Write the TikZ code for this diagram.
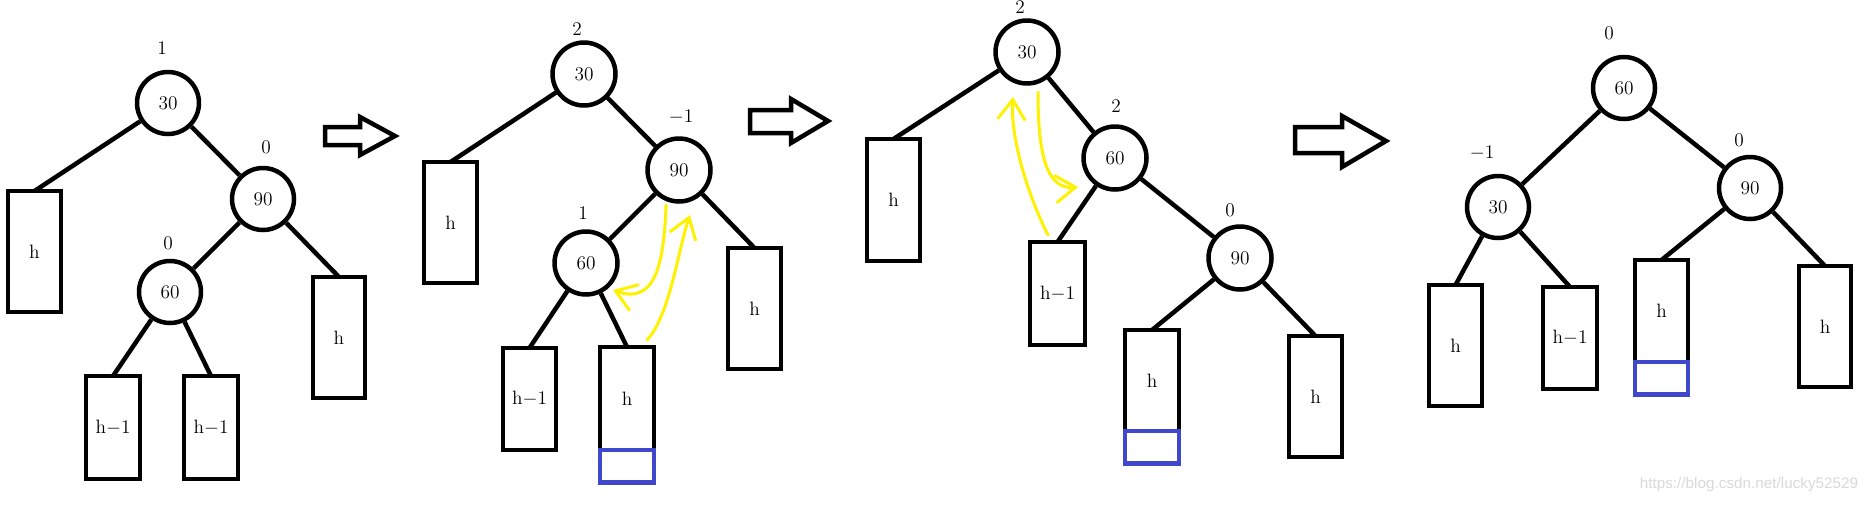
\documentclass[tikz,border=0pt]{standalone}
\usepackage{fontspec}
\newfontfamily\wmfont{Liberation Sans}
\usetikzlibrary{arrows.meta,positioning}
\definecolor{markyellow}{RGB}{255,242,0}
\definecolor{newblue}{RGB}{63,72,204}

\begin{document}
\begin{tikzpicture}[
  x=0.02cm, y=-0.02cm,
  font=\fontsize{11}{13}\selectfont,
  knot/.style={circle, draw, line width=0.09cm, minimum size=1.24cm, inner sep=0pt},
  sub/.style={draw, line width=0.09cm, inner sep=0pt, outer sep=0pt},
  addbox/.style={draw=newblue, line width=0.09cm, inner sep=0pt, outer sep=0pt, minimum height=0.65cm},
  bal/.style={inner sep=0pt},
  link/.style={line width=0.09cm},
  rotmark/.style={draw=markyellow, line width=0.06cm, line cap=round,
    -{Straight Barb[length=0.4cm, width=0.55cm, line width=0.06cm]}},
  bigarrow/.style={draw, line width=0.09cm, fill=white}
]
\useasboundingbox (0,0) rectangle (1871,504);

% before insertion
\node[knot] (a30) at (168,103) {30};
\node[knot] (a90) at (263,199) {90};
\node[knot] (a60) at (170,292) {60};
\node[bal] (a30b) at (162,48) {1};
\node[bal] (a90b) at (266,147) {0};
\node[bal] (a60b) at (168,243) {0};
\node[sub, minimum width=1.06cm, minimum height=2.42cm] (a30l) at (34.5,251.5) {h};
\node[sub, minimum width=1.04cm, minimum height=2.42cm] (a90r) at (339,337.5) {h};
\node[sub, minimum width=1.08cm, minimum height=2.06cm] (a60l) at (113,427.5) {h$-$1};
\node[sub, minimum width=1.08cm, minimum height=2.06cm] (a60r) at (211,427.5) {h$-$1};
\draw[link] (a30) -- (a30l.north);
\draw[link] (a30) -- (a90);
\draw[link] (a90) -- (a60);
\draw[link] (a90) -- (a90r.north);
\draw[link] (a60) -- (a60l.north);
\draw[link] (a60) -- (a60r.north);

\draw[bigarrow] (325,127) -- (360,127) -- (360,117) -- (395,136) -- (360,155) -- (360,145) -- (325,145) -- cycle;

% after insertion
\node[knot, minimum size=1.26cm] (b30) at (584,74) {30};
\node[knot, minimum size=1.26cm] (b90) at (679,170) {90};
\node[knot, minimum size=1.26cm] (b60) at (586,263) {60};
\node[bal] (b30b) at (577,29) {2};
\node[bal] (b90b) at (681,117) {$-$1};
\node[bal] (b60b) at (583,213) {1};
\node[sub, minimum width=1.06cm, minimum height=2.42cm] (b30l) at (450.5,222.5) {h};
\node[sub, minimum width=1.06cm, minimum height=2.42cm] (b90r) at (754.5,308.5) {h};
\node[sub, minimum width=1.06cm, minimum height=2.04cm] (b60l) at (529.5,399) {h$-$1};
\node[sub, minimum width=1.08cm, minimum height=2.06cm] (b60r) at (627,398.5) {h};
\node[addbox, minimum width=1.08cm, below=0pt of b60r] (b60n) {};
\draw[link] (b30) -- (b30l.north);
\draw[link] (b30) -- (b90);
\draw[link] (b90) -- (b60);
\draw[link] (b90) -- (b90r.north);
\draw[link] (b60) -- (b60l.north);
\draw[link] (b60) -- (b60r.north);
\coordinate (b1s) at (666,205);
\coordinate (b1e) at (613,290);
\coordinate (b2s) at (647,340);
\coordinate (b2e) at (690,215);
\draw[rotmark] (b1s) .. controls (664,265) and (655,305) .. (b1e);
\draw[rotmark] (b2s) .. controls (670,315) and (678,250) .. (b2e);

\draw[bigarrow] (750,110) -- (791,110) -- (791,99) -- (828,121) -- (791,143) -- (791,133) -- (750,133) -- cycle;

% right rotation of 90
\node[knot, minimum size=1.26cm] (c30) at (1027,52) {30};
\node[knot, minimum size=1.26cm] (c60) at (1115,158) {60};
\node[knot, minimum size=1.26cm] (c90) at (1240,258) {90};
\node[bal] (c30b) at (1020,7) {2};
\node[bal] (c60b) at (1116,106) {2};
\node[bal] (c90b) at (1230,210) {0};
\node[sub, minimum width=1.06cm, minimum height=2.44cm] (c30l) at (893.5,200) {h};
\node[sub, minimum width=1.10cm, minimum height=2.06cm] (c60l) at (1057.5,293.5) {h$-$1};
\node[sub, minimum width=1.08cm, minimum height=2.02cm] (c90l) at (1152,380.5) {h};
\node[addbox, minimum width=1.08cm, below=0pt of c90l] (c90n) {};
\node[sub, minimum width=1.06cm, minimum height=2.42cm] (c90r) at (1315.5,396.5) {h};
\draw[link] (c30) -- (c30l.north);
\draw[link] (c30) -- (c60);
\draw[link] (c60) -- (c60l.north);
\draw[link] (c60) -- (c90);
\draw[link] (c90) -- (c90l.north);
\draw[link] (c90) -- (c90r.north);
\coordinate (c1s) at (1048,235);
\coordinate (c1e) at (1013,97);
\coordinate (c2s) at (1038,92);
\coordinate (c2e) at (1078,187);
\draw[rotmark] (c1s) .. controls (1030,200) and (1010,140) .. (c1e);
\draw[rotmark] (c2s) .. controls (1038,150) and (1045,190) .. (c2e);

\draw[bigarrow] (1295,127) -- (1342,127) -- (1342,116) -- (1386,141) -- (1342,167) -- (1342,153) -- (1295,153) -- cycle;

% left rotation of 30
\node[knot] (d60) at (1624,88) {60};
\node[knot] (d30) at (1498,207) {30};
\node[knot] (d90) at (1750,188) {90};
\node[bal] (d60b) at (1609,33) {0};
\node[bal] (d30b) at (1482,153) {$-$1};
\node[bal] (d90b) at (1739,140) {0};
\node[sub, minimum width=1.06cm, minimum height=2.42cm] (d30l) at (1455.5,345.5) {h};
\node[sub, minimum width=1.08cm, minimum height=2.04cm] (d30r) at (1570,338) {h$-$1};
\node[sub, minimum width=1.06cm, minimum height=2.04cm] (d90l) at (1661.5,311) {h};
\node[addbox, minimum width=1.06cm, below=0pt of d90l] (d90n) {};
\node[sub, minimum width=1.04cm, minimum height=2.42cm] (d90r) at (1825,326.5) {h};
\draw[link] (d60) -- (d30);
\draw[link] (d60) -- (d90);
\draw[link] (d30) -- (d30l.north);
\draw[link] (d30) -- (d30r.north);
\draw[link] (d90) -- (d90l.north);
\draw[link] (d90) -- (d90r.north);

\node[text=gray!30, font=\wmfont\fontsize{8.7}{10}\selectfont] (mark) at (1749,485) {https://blog.csdn.net/lucky52529};
\end{tikzpicture}
\end{document}
